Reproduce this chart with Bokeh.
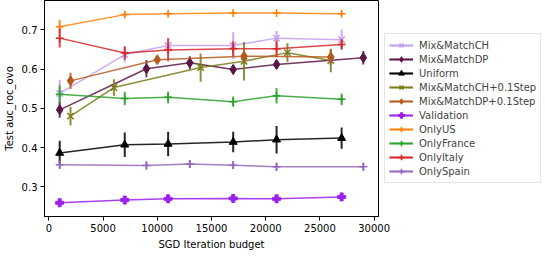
from bokeh.plotting import figure
from bokeh.models import Legend, LegendItem, FixedTicker, Range1d
from bokeh.embed import file_html
from bokeh.resources import INLINE

x_a = [1000, 7000, 11000, 17000, 21000, 27000]
x_b = [1000, 9000, 13000, 17000, 21000, 29000]
x_c = [2000, 6000, 14000, 18000, 22000, 26000]
x_d = [2000, 10000, 18000, 26000]

mmch_y = [0.538, 0.637, 0.660, 0.660, 0.679, 0.675]
mmch_e = [0.035, 0.02, 0.02, 0.034, 0.018, 0.026]
mmdp_y = [0.496, 0.601, 0.616, 0.599, 0.612, 0.629]
mmdp_e = [0.02, 0.022, 0.017, 0.012, 0.011, 0.017]
uni_y = [0.386, 0.407, 0.409, 0.414, 0.420, 0.424]
uni_e = [0.031, 0.031, 0.031, 0.026, 0.035, 0.027]
ch01_y = [0.480, 0.553, 0.604, 0.620, 0.642, 0.622]
ch01_e = [0.024, 0.021, 0.036, 0.049, 0.024, 0.03]
dp01_y = [0.570, 0.624, 0.633, 0.631]
dp01_e = [0.021, 0.008, 0.01, 0.02]
val_y = [0.259, 0.266, 0.269, 0.270, 0.269, 0.274]
val_e = [0.005, 0.005, 0.005, 0.005, 0.005, 0.005]
us_y = [0.708, 0.739, 0.741, 0.743, 0.743, 0.741]
us_e = [0.017, 0.006, 0.005, 0.005, 0.004, 0.005]
fr_y = [0.536, 0.525, 0.528, 0.517, 0.532, 0.523]
fr_e = [0.023, 0.017, 0.015, 0.013, 0.02, 0.015]
it_y = [0.679, 0.641, 0.649, 0.652, 0.652, 0.663]
it_e = [0.024, 0.017, 0.029, 0.019, 0.021, 0.013]
sp_y = [0.356, 0.354, 0.358, 0.355, 0.351, 0.351]
sp_e = [0.01, 0.01, 0.01, 0.01, 0.01, 0.01]

x_ticks = [0, 5000, 10000, 15000, 20000, 25000, 30000]
y_ticks = [0.3, 0.4, 0.5, 0.6, 0.7]

series = [
    ("Mix&MatchCH", x_a, mmch_y, mmch_e, "#c49cf0", "x", 9),
    ("Mix&MatchDP", x_b, mmdp_y, mmdp_e, "#5a1545", "diamond", 10),
    ("Uniform", x_a, uni_y, uni_e, "#000000", "triangle", 8),
    ("Mix&MatchCH+0.1Step", x_c, ch01_y, ch01_e, "#7a7a1a", "x", 9),
    ("Mix&MatchDP+0.1Step", x_d, dp01_y, dp01_e, "#b55a1e", "diamond", 10),
    ("Validation", x_a, val_y, val_e, "#9b1fef", "plus", 8),
    ("OnlyUS", x_a, us_y, us_e, "#ff7f0e", "cross", 8),
    ("OnlyFrance", x_a, fr_y, fr_e, "#2ca02c", "cross", 8),
    ("OnlyItaly", x_a, it_y, it_e, "#d62728", "cross", 8),
    ("OnlySpain", x_b, sp_y, sp_e, "#9467bd", "cross", 8),
]

font = "DejaVu Sans"
p = figure(frame_width=334, frame_height=216, output_backend="svg", toolbar_location=None,
           x_range=Range1d(-400, 30400), y_range=Range1d(0.224, 0.775),
           min_border_left=37, min_border_top=0, min_border_right=0, min_border_bottom=0)
p.grid.visible = False
p.outline_line_color = "#000000"
p.outline_line_width = 1
p.background_fill_color = "white"

items = []
for name, xs, ys, es, color, marker, size in series:
    lo = [y - e for y, e in zip(ys, es)]
    hi = [y + e for y, e in zip(ys, es)]
    seg = p.segment(x0=xs, y0=lo, x1=xs, y1=hi, line_color=color, line_width=2, line_alpha=0.85)
    ln = p.line(xs, ys, line_color=color, line_width=1.5, line_alpha=0.85)
    sc = p.scatter(xs, ys, marker=marker, size=size, fill_color=color, line_color=color,
                   line_width=1.5 if marker in ("x", "cross") else 1)
    items.append(LegendItem(label=name, renderers=[ln, sc, seg]))

for ax in (p.xaxis[0], p.yaxis[0]):
    ax.major_label_text_font = font
    ax.major_label_text_font_size = "10px"
    ax.major_label_text_color = "#000000"
    ax.axis_label_text_font = font
    ax.axis_label_text_font_size = "10px"
    ax.axis_label_text_font_style = "normal"
    ax.axis_label_text_color = "#000000"
    ax.major_tick_in = 0
    ax.major_tick_out = 4
    ax.minor_tick_line_color = None
    ax.axis_line_color = "#000000"
    ax.major_tick_line_color = "#000000"
    ax.major_label_standoff = 3
    ax.axis_label_standoff = 4

p.xaxis[0].ticker = FixedTicker(ticks=x_ticks)
p.yaxis[0].ticker = FixedTicker(ticks=y_ticks)
p.xaxis[0].axis_label = "SGD Iteration budget"
p.yaxis[0].axis_label = "Test auc_roc_ovo"

legend = Legend(items=items, location="center_left",
                label_text_font=font, label_text_font_size="10px",
                glyph_width=24, glyph_height=14, label_height=14,
                spacing=0, padding=4, margin=6, label_standoff=6,
                border_line_color="#cccccc", border_line_width=1,
                background_fill_alpha=1.0)
p.add_layout(legend, "right")

open("out.html", "w").write(file_html(p, INLINE))
